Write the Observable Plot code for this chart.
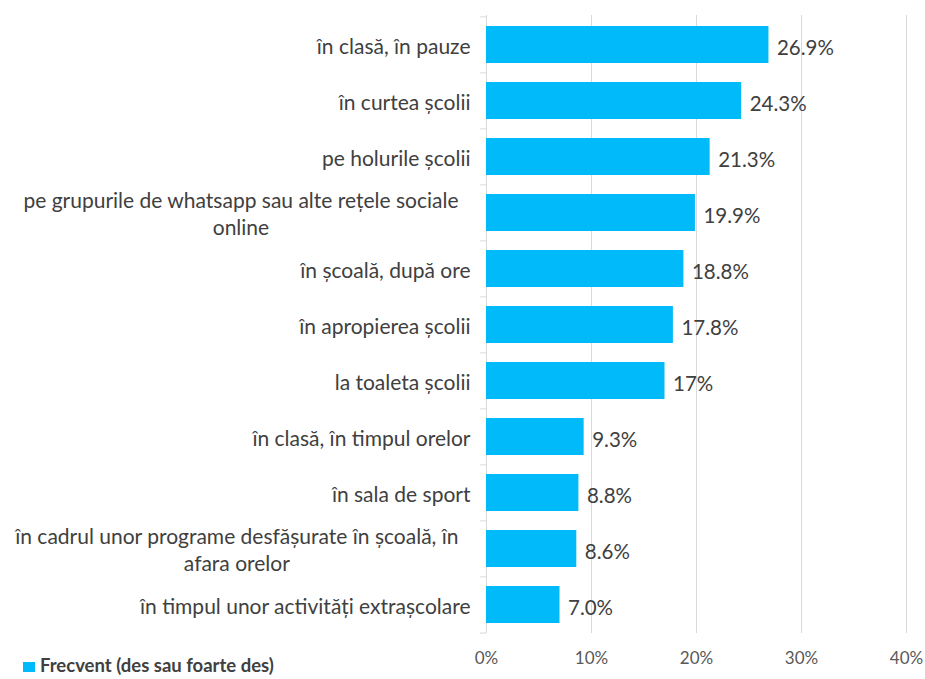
<!DOCTYPE html>
<html>
<head>
<meta charset="utf-8">
<script src="https://cdn.jsdelivr.net/npm/d3@7"></script>
<script src="https://cdn.jsdelivr.net/npm/@observablehq/plot@0.6"></script>
<style>
  html, body { margin: 0; padding: 0; background: #fff; }
  #wrap { position: relative; width: 925px; height: 679px; overflow: hidden; }
  #legend { position: absolute; left: 23px; top: 655px; display: flex; align-items: center; line-height: 1.15;
    font-family: Lato, "Open Sans", sans-serif; font-weight: bold; font-size: 18.5px; color: #404040; }
  #legend .sw { width: 12px; height: 10px; margin-right: 5px; margin-top: 3px; }
</style>
</head>
<body>
<div id="wrap"></div>
<script>
const categories = [
  "în clasă, în pauze",
  "în curtea școlii",
  "pe holurile școlii",
  "pe grupurile de whatsapp sau alte rețele sociale\nonline",
  "în școală, după ore",
  "în apropierea școlii",
  "la toaleta școlii",
  "în clasă, în timpul orelor",
  "în sala de sport",
  "în cadrul unor programe desfășurate în școală, în\nafara orelor",
  "în timpul unor activități extrașcolare"
];
const values = [26.9, 24.3, 21.3, 19.9, 18.8, 17.8, 17.0, 9.3, 8.8, 8.6, 7.0];
const valueLabels = ["26.9%", "24.3%", "21.3%", "19.9%", "18.8%", "17.8%", "17%", "9.3%", "8.8%", "8.6%", "7.0%"];
const xTicks = [0, 10, 20, 30, 40];
const seriesName = "Frecvent (des sau foarte des)";
const barColor = "#00BAFA";

const data = categories.map((c, i) => ({category: c, value: values[i], label: valueLabels[i]}));

const H = 679, mTop = 15, mBottom = 46;
const step = (H - mTop - mBottom) / categories.length;

const chart = Plot.plot({
  width: 925,
  height: H,
  marginLeft: 486,
  marginRight: 19,
  marginTop: mTop,
  marginBottom: mBottom,
  style: {fontFamily: "Lato, 'Open Sans', sans-serif", color: "#404040", background: "#fff"},
  x: {domain: [0, 40]},
  y: {domain: categories, paddingInner: 0.34, paddingOuter: 0.17},
  marks: [
    Plot.gridX(xTicks.slice(1), {stroke: "#d9d9d9", strokeOpacity: 1}),
    Plot.ruleX([0], {stroke: "#d9d9d9"}),
    Plot.barX(data, {x: "value", y: "category", fill: barColor}),
    Plot.text(data, {x: "value", y: "category", text: "label", textAnchor: "start", dx: 8, dy: 3, fontSize: 20.5, fill: "#404040"}),
    Plot.axisX(xTicks, {tickFormat: d => d + "%", tickSize: 0, tickPadding: 18, fontSize: 17, fill: "#595959", label: null}),
    Plot.axisY({tickSize: 0, tickPadding: 16, fontSize: 21, fill: "#404040", label: null, lineHeight: 1.3}),
    Plot.axisY(categories, {tickFormat: () => "", tickSize: 6, dy: -step / 2, stroke: "#d9d9d9", label: null}),
    Plot.axisY([categories[categories.length - 1]], {tickFormat: () => "", tickSize: 6, dy: step / 2, stroke: "#d9d9d9", label: null})
  ]
});

const wrap = document.getElementById("wrap");
wrap.appendChild(chart);

// center wrapped category labels like the original
chart.querySelectorAll("text").forEach(t => {
  const spans = t.querySelectorAll("tspan");
  if (spans.length > 1) {
    let maxW = 0;
    spans.forEach(s => { maxW = Math.max(maxW, s.getComputedTextLength()); });
    t.setAttribute("text-anchor", "middle");
    spans.forEach(s => s.setAttribute("x", -maxW / 2 - 12));
  }
});

const legend = document.createElement("div");
legend.id = "legend";
legend.innerHTML = `<span class="sw" style="background:${barColor}"></span><span>${seriesName}</span>`;
wrap.appendChild(legend);
</script>
</body>
</html>
